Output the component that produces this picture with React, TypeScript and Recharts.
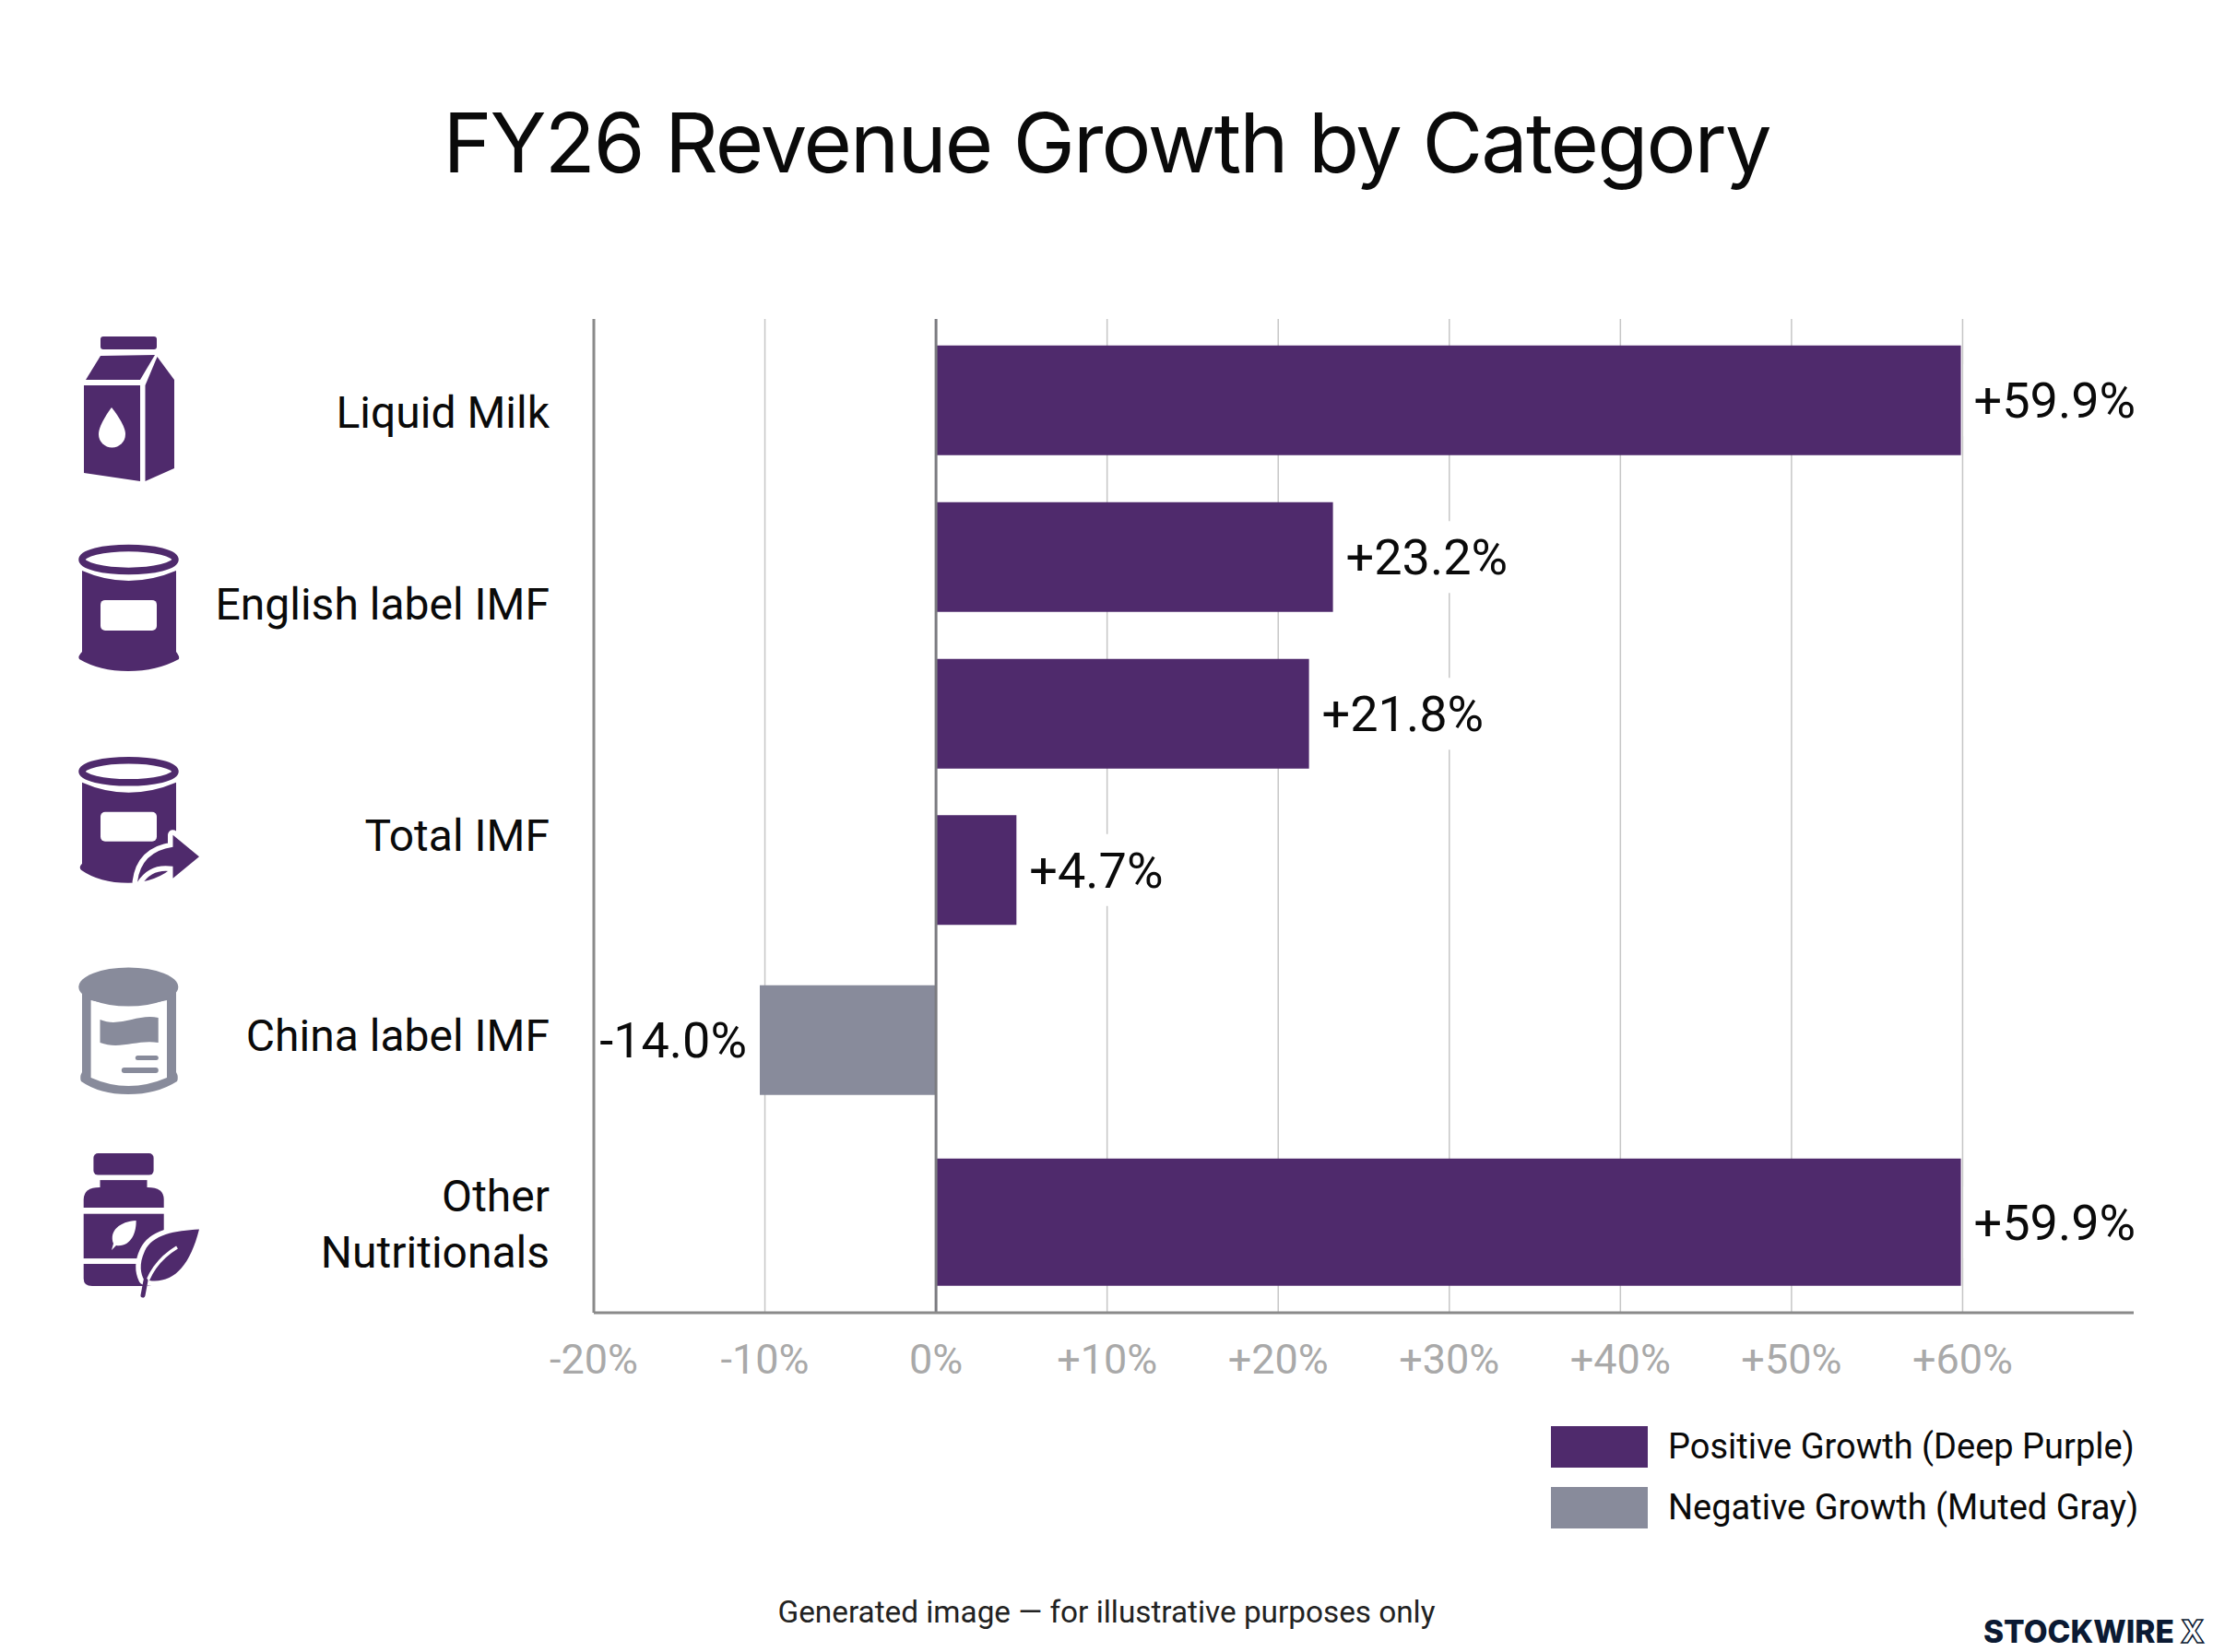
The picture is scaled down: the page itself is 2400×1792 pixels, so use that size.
import { BarChart, Bar, XAxis, YAxis, CartesianGrid, ReferenceLine, LabelList, Legend, Rectangle } from 'recharts'

const PURPLE = '#4f2a6c'
const GRAY = '#888b9b'
const INK = '#0a0a0a'
const FONT = 'Roboto'

// one row per bar; the picture has six bars but only five row captions
const barValues = [59.9, 23.2, 21.8, 4.7, -10.3, 59.9] // length as drawn (the gray bar stops short of its printed label)
const barLabels = ['+59.9%', '+23.2%', '+21.8%', '+4.7%', '-14.0%', '+59.9%']
const barSlots = [0.5206, 1.5206, 2.5206, 3.5176, 4.603, 5.765]
const captions = [['Liquid Milk'], ['English label IMF'], ['Total IMF'], ['China label IMF'], ['Other', 'Nutritionals']]
const captionSlots = [0.594, 1.817, 3.293, 4.571, 5.771]
const xTicks = [-20, -10, 0, 10, 20, 30, 40, 50, 60]
const SLOT_MAX = 6.341
const WIDE_ROW = 5

const table = barValues.map((v, i) => ({
  slot: barSlots[i],
  positive: v > 0 ? v : null,
  negative: v < 0 ? v : null,
  positiveLabel: v > 0 ? barLabels[i] : null,
  negativeLabel: v < 0 ? barLabels[i] : null,
}))

const MilkIcon = () => (
  <g fill={PURPLE}>
    <rect x={109} y={-82} width={61} height={14} rx={3} />
    <path d="M109,-61 L168,-62 L152,-35 L93,-35 Z" />
    <path d="M91,-29 L152,-29 L152,75 L91,66 Z" />
    <path d="M170.5,-60 L189,-35 L189,61 L157.5,75 L157.5,-29 Z" />
    <path d="M121,-5 C121,-5 107,13 107,24 A14.5,14.5 0 0 0 136,24 C136,13 121,-5 121,-5 Z" fill="#fff" />
  </g>
)

const CanIcon = () => (
  <g fill={PURPLE}>
    <ellipse cx={139.5} cy={-48} rx={50.5} ry={12.5} fill="none" stroke={PURPLE} strokeWidth={7.5} />
    <path d="M89,-36 Q139,-14 191,-36 L191,52 Q195,57 194,60 Q170,73 139,73 Q108,73 86,60 Q84,57 89,52 Z" />
    <rect x={109} y={-4} width={61} height={33} rx={5} fill="#fff" />
  </g>
)

const TotalIcon = () => (
  <g fill={PURPLE}>
    <ellipse cx={139.5} cy={-69} rx={50.5} ry={12} fill="none" stroke={PURPLE} strokeWidth={7.5} />
    <path d="M89,-57 Q139,-35 191,-57 L191,32 Q170,52 139,52 Q108,52 88,38 Q85,35 89,31 Z" />
    <rect x={109} y={-25} width={61} height={32} rx={5} fill="#fff" />
    <path d="M216,23.4 L187.5,0 L187.5,13 Q153,18 149,51 Q162,30 187.5,34 L187.5,47 Z" stroke="#fff" strokeWidth={11} strokeLinejoin="round" />
    <path d="M216,23.4 L187.5,0 L187.5,13 Q153,18 149,51 Q162,30 187.5,34 L187.5,47 Z" />
  </g>
)

const ChinaIcon = () => (
  <g fill={GRAY}>
    <path d="M89,-50 L191,-50 L191,40 Q194,45 192,50 Q170,64 139,64 Q108,64 88,50 Q86,45 89,40 Z" />
    <path d="M98.6,-38 Q139,-28 181,-38 L181,46 Q139,64 98.6,46 Z" fill="#fff" />
    <ellipse cx={139.3} cy={-52.6} rx={54} ry={21} />
    <path d="M108.5,-17 C130,-8 150,-24 171.7,-19 L171.7,8 C150,4 130,16 108.5,8 Z" />
    <rect x={146.8} y={22} width={25} height={5} rx={2.5} />
    <rect x={131.8} y={35} width={40} height={6} rx={3} />
  </g>
)

const BottleIcon = () => (
  <g fill={PURPLE}>
    <rect x={101.4} y={-76} width={65.2} height={23.5} rx={5} />
    <rect x={108.5} y={-47} width={51} height={10} />
    <path d="M90.7,-17 L90.7,-26 Q91,-39 108,-39 L160,-39 Q177.7,-39 177.7,-26 L177.7,-17 Z" />
    <rect x={90.7} y={-10.4} width={87} height={48.4} />
    <path d="M90.7,44 L165,44 L165,68 L100,68 Q90.7,68 90.7,60 Z" />
    <path d="M147.6,-3 C130,-2 118,8 123,22 L121,29 L126,24 C142,26 148,10 147.6,-3 Z" fill="#fff" />
    <path d="M216,6.5 C190,8 165,12 157,30 C150,45 153,55 156,61 C185,68 205,50 216,6.5 Z" stroke="#fff" strokeWidth={11} strokeLinejoin="round" />
    <path d="M216,6.5 C190,8 165,12 157,30 C150,45 153,55 156,61 C185,68 205,50 216,6.5 Z" />
    <path d="M155,78 C160,55 172,38 192,26" fill="none" stroke="#fff" strokeWidth={3.5} />
    <path d="M155,78 L158,62" fill="none" stroke={PURPLE} strokeWidth={5} strokeLinecap="round" />
  </g>
)

const icons = [MilkIcon, CanIcon, TotalIcon, ChinaIcon, BottleIcon]

function CaptionTick({ x, y, index }: any) {
  const lines = captions[index] ?? []
  const Icon = icons[index]
  return (
    <g>
      {Icon && (
        <g transform={`translate(0, ${y})`}>
          <Icon />
        </g>
      )}
      <text textAnchor="end" fontFamily={FONT} fontSize={48} fill={INK}>
        {lines.map((line, i) => (
          <tspan key={line} x={x + 1} y={y + 17 + (i - (lines.length - 1) / 2) * 61}>
            {line}
          </tspan>
        ))}
      </text>
    </g>
  )
}

function RowBar(props: any) {
  const extra = props.index === WIDE_ROW ? 19 : 0
  return <Rectangle {...props} y={props.y - extra / 2} height={props.height + extra} />
}

function BarLabel({ x, y, width, height, value }: any) {
  if (value == null) return null
  const cy = y + height / 2
  const negative = String(value).startsWith('-')
  if (negative) {
    return (
      <text x={Math.min(x, x + width) - 14} y={cy + 19} textAnchor="end" fontFamily={FONT} fontSize={54} fill={INK}>
        {value}
      </text>
    )
  }
  const left = x + width
  return (
    <g>
      <rect x={left + 3} y={cy - 39} width={String(value).length * 30 + 10} height={78} fill="#fff" />
      <text x={left + 14} y={cy + 19} fontFamily={FONT} fontSize={54} fill={INK}>
        {value}
      </text>
    </g>
  )
}

function LegendRows({ payload }: any) {
  return (
    <div>
      {(payload ?? []).map((p: any) => (
        <div key={p.value} style={{ display: 'flex', alignItems: 'center', height: 66 }}>
          <div style={{ width: 105, height: 45, background: p.color, marginRight: 22 }} />
          <span style={{ fontFamily: FONT, fontSize: 38, color: INK, whiteSpace: 'nowrap' }}>{p.value}</span>
        </div>
      ))}
    </div>
  )
}

export default function App() {
  return (
    <div style={{ position: 'absolute', left: 0, top: 0, width: 2400, height: 1792, background: '#fff', overflow: 'hidden' }}>
      <div style={{ position: 'absolute', left: 0, width: 2400, top: 95, textAlign: 'center', fontFamily: 'Inter', fontSize: 90, letterSpacing: -1.9, lineHeight: '120px', color: INK }}>
        FY26 Revenue Growth by Category
      </div>

      <BarChart
        width={2400}
        height={1792}
        data={table}
        layout="vertical"
        margin={{ top: 346, right: 86, bottom: 308, left: 0 }}
      >
        <CartesianGrid vertical horizontal={false} syncWithTicks stroke="#c6c6c6" strokeWidth={1.5} />
        <XAxis
          type="number"
          domain={[-20, 70]}
          ticks={xTicks}
          interval={0}
          height={60}
          tickLine={false}
          tickSize={0}
          tickMargin={34}
          axisLine={{ stroke: '#8a8a8a', strokeWidth: 3 }}
          tick={{ fontSize: 45, fontFamily: FONT, fill: '#a9a9a9' }}
          tickFormatter={v => (v > 0 ? `+${v}%` : `${v}%`)}
        />
        <YAxis
          type="number"
          dataKey="slot"
          domain={[0, SLOT_MAX]}
          ticks={captionSlots}
          interval={0}
          width={644}
          tickLine={false}
          tickSize={0}
          tickMargin={49}
          axisLine={{ stroke: '#8a8a8a', strokeWidth: 3 }}
          tick={<CaptionTick />}
        />
        <Bar dataKey="positive" name="Positive Growth (Deep Purple)" stackId="g" barSize={119} fill={PURPLE} shape={RowBar} isAnimationActive={false}>
          <LabelList dataKey="positiveLabel" content={BarLabel} />
        </Bar>
        <Bar dataKey="negative" name="Negative Growth (Muted Gray)" stackId="g" barSize={119} fill={GRAY} shape={RowBar} isAnimationActive={false}>
          <LabelList dataKey="negativeLabel" content={BarLabel} />
        </Bar>
        <ReferenceLine x={0} stroke="#7b7b80" strokeWidth={3} />
        <Legend
          layout="horizontal"
          verticalAlign="middle"
          itemSorter={null}
          content={LegendRows}
          wrapperStyle={{ left: 1682, top: 1536, width: 700, height: 140 }}
        />
      </BarChart>

      <div style={{ position: 'absolute', left: 0, width: 2400, top: 1729, textAlign: 'center', fontFamily: FONT, fontSize: 33.3, lineHeight: '40px', color: '#222' }}>
        Generated image — for illustrative purposes only
      </div>
      <div style={{ position: 'absolute', left: 2151, top: 1750, fontFamily: 'Inter', fontWeight: 800, fontSize: 33.5, lineHeight: '40px', color: '#0b1a33', whiteSpace: 'nowrap' }}>
        STOCKWIRE<span style={{ marginLeft: 7, color: '#fff', WebkitTextStroke: '1.5px #0b1a33' }}>X</span>
      </div>
    </div>
  )
}
